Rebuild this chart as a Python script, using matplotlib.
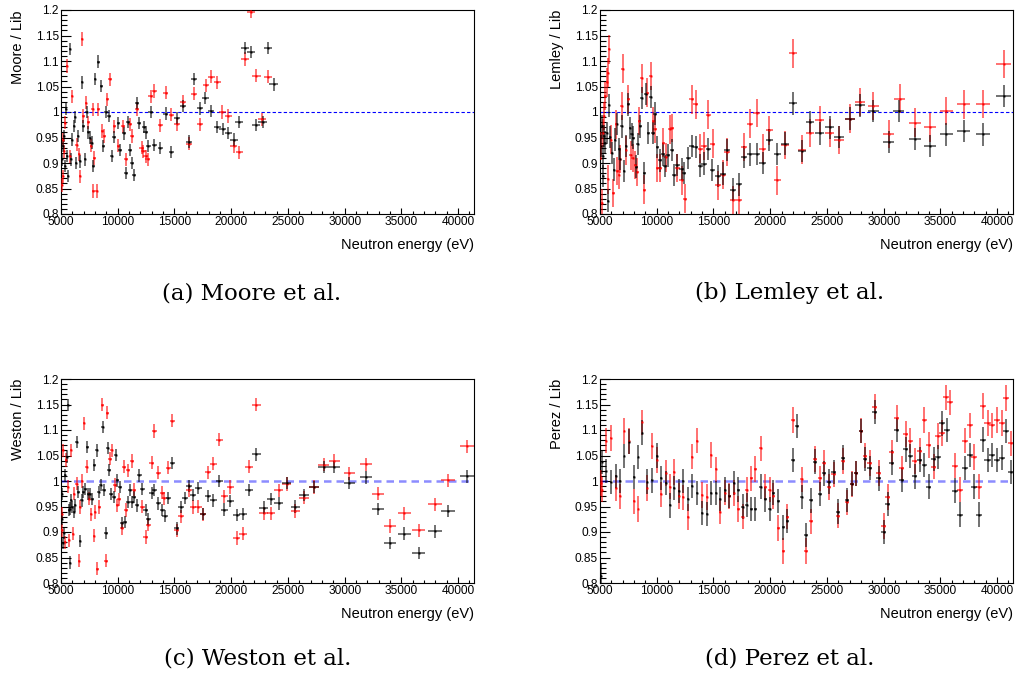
import numpy as np
import matplotlib
matplotlib.use("Agg")
import matplotlib.pyplot as plt
from matplotlib.ticker import MultipleLocator, FuncFormatter

# Ratio to library, black = first analysis, red = second analysis

# (a) Moore
moore_black_e = [5120, 5200, 5270, 5350, 5440, 5500, 5650, 5790, 5850, 6000, 6150, 6240, 6320, 6470, 6680,
                 6850, 6970, 7120, 7260, 7410, 7560, 7700, 7850, 8000, 8290, 8530, 8730, 8970, 9230, 9470,
                 9680, 10060, 10200, 10530, 10700, 10880, 11090, 11290, 11470, 11670, 11900, 12320, 12470,
                 12700, 12900, 13230, 13730, 14230, 14730, 15230, 15730, 16260, 16760, 17230, 17730, 18230,
                 18760, 19260, 19760, 20260, 20700, 21230, 21730, 22200, 22760, 23230, 23730]
moore_black_r = [0.907, 0.933, 0.953, 0.894, 1.006, 0.913, 0.874, 1.123, 0.907, 0.946, 0.972, 0.990, 0.900,
                 0.953, 0.903, 1.058, 0.972, 0.907, 1.000, 0.960, 0.950, 0.940, 0.894, 1.064, 1.099, 1.051,
                 0.933, 1.000, 0.992, 0.913, 0.951, 0.979, 0.926, 0.958, 0.880, 0.980, 0.926, 0.900, 0.877,
                 1.018, 0.979, 0.970, 0.960, 0.933, 1.000, 0.935, 0.930, 0.997, 0.922, 0.988, 1.012, 0.942,
                 1.064, 1.007, 1.027, 1.002, 0.970, 0.966, 0.959, 0.946, 0.980, 1.125, 1.118, 0.974, 0.980,
                 1.125, 1.054]
moore_red_e = [5090, 5150, 5200, 5260, 5350, 5500, 5790, 6000, 6380, 6590, 6680, 6850, 6970, 7200, 7410,
               7650, 7790, 7850, 7940, 8150, 8290, 8650, 8820, 9090, 9320, 9700, 10060, 10500, 10700, 11090,
               11290, 11700, 12110, 12260, 12470, 12640, 12910, 13230, 13730, 14230, 14730, 15230, 15760,
               16260, 16760, 17260, 17760, 18260, 18760, 19230, 19730, 20230, 20730, 21230, 21730, 22230,
               22700, 23230]
moore_red_r = [0.857, 0.946, 0.874, 0.923, 0.979, 1.090, 0.913, 1.031, 0.936, 0.917, 0.874, 1.143, 0.992,
               1.018, 0.980, 0.934, 1.005, 0.845, 0.910, 0.845, 1.005, 0.963, 0.953, 1.025, 1.064, 0.972,
               0.934, 0.972, 0.907, 0.976, 0.953, 1.006, 0.930, 0.923, 0.913, 0.907, 1.031, 1.041, 0.974,
               1.038, 0.995, 0.976, 1.020, 0.938, 1.036, 0.976, 1.052, 1.069, 1.058, 1.000, 0.992, 0.933,
               0.921, 1.104, 1.197, 1.071, 0.986, 1.069]

# (b) Lemley
lemley_black_e = [5090, 5150, 5240, 5290, 5350, 5470, 5590, 5740, 5820, 5880, 6090, 6230, 6350, 6470, 6650,
                  6760, 6910, 7120, 7290, 7500, 7650, 7790, 7940, 8180, 8320, 8530, 8680, 8910, 9060, 9260,
                  9470, 9650, 9850, 10060, 10290, 10530, 10730, 10970, 11320, 11530, 11820, 12200, 12410,
                  12790, 13090, 13440, 13820, 14170, 14560, 14910, 15380, 15820, 16230, 16700, 17260, 17700,
                  18230, 18820, 19350, 19930, 20640, 21320, 22050, 22790, 23520, 24350, 25230, 26080, 27050,
                  27930, 29100, 30430, 31310, 32780, 34100, 35520, 37050, 38750, 40570]
lemley_black_r = [0.933, 0.972, 0.913, 0.874, 0.953, 0.940, 0.959, 0.825, 1.013, 0.951, 0.920, 0.887, 0.946,
                  0.976, 0.928, 0.908, 0.972, 0.884, 0.933, 1.015, 0.969, 0.956, 0.950, 0.893, 0.937, 0.972,
                  1.027, 0.880, 1.035, 0.959, 1.029, 0.959, 0.997, 0.931, 0.905, 0.917, 0.894, 0.915, 0.925,
                  0.877, 0.896, 0.888, 0.880, 0.910, 0.933, 0.931, 0.895, 0.899, 0.928, 0.886, 0.875, 0.879,
                  0.926, 0.848, 0.858, 0.912, 0.917, 0.918, 0.900, 0.945, 0.918, 0.938, 1.017, 0.923, 0.980,
                  0.958, 0.970, 0.951, 0.987, 1.013, 1.002, 0.941, 1.002, 0.947, 0.933, 0.956, 0.963, 0.956,
                  1.031]
lemley_red_e = [5090, 5150, 5240, 5350, 5470, 5590, 5680, 5740, 5820, 5940, 6180, 6410, 6530, 6650, 6760,
                6910, 7000, 7290, 7500, 7700, 7880, 8090, 8290, 8470, 8680, 8910, 9170, 9470, 9700, 9850,
                10060, 10290, 10590, 10790, 11170, 11380, 11820, 12200, 12500, 13090, 13440, 13820, 14170,
                14560, 14940, 15380, 15820, 16230, 16700, 17260, 17700, 18230, 18820, 19350, 19930, 20640,
                21320, 22050, 22790, 23520, 24350, 25230, 26080, 27050, 27930, 29100, 30430, 31400, 32780,
                34100, 35520, 37050, 38750, 40570]
lemley_red_r = [0.933, 0.821, 0.959, 0.992, 1.031, 1.058, 0.868, 1.077, 1.123, 0.946, 0.841, 0.976, 0.884,
                0.877, 0.908, 1.012, 1.085, 0.925, 1.025, 0.915, 0.910, 0.896, 0.882, 0.982, 1.066, 0.848,
                1.038, 1.071, 0.982, 0.967, 0.890, 0.890, 0.940, 0.911, 0.966, 0.969, 0.890, 0.866, 0.830,
                1.025, 1.015, 0.928, 0.933, 0.995, 0.938, 0.856, 0.877, 0.922, 0.827, 0.828, 0.931, 0.977,
                0.998, 0.928, 0.964, 0.866, 0.935, 1.115, 0.926, 0.959, 0.984, 0.959, 0.945, 0.987, 1.020,
                1.012, 0.957, 1.026, 0.979, 0.970, 1.002, 1.015, 1.016, 1.094]

# (c) Weston
weston_black_e = [5060, 5120, 5200, 5290, 5380, 5500, 5650, 5700, 5760, 5790, 5880, 6000, 6150, 6260, 6380,
                  6530, 6680, 6820, 6970, 7150, 7320, 7410, 7560, 7760, 7940, 8150, 8320, 8500, 8670, 8790,
                  8970, 9120, 9230, 9410, 9680, 9820, 9970, 10200, 10410, 10640, 10880, 11090, 11290, 11470,
                  11670, 11910, 12170, 12470, 12700, 13000, 13230, 13580, 13940, 14170, 14470, 14820, 15200,
                  15550, 15940, 16320, 16670, 17110, 17520, 17970, 18440, 18940, 19410, 19910, 20490, 21020,
                  21580, 22230, 22850, 23520, 24200, 24900, 25640, 26430, 27260, 28140, 29100, 30400, 31870,
                  32900, 34020, 35250, 36520, 37990, 39100, 40780]
weston_black_r = [0.975, 0.926, 0.878, 0.898, 1.011, 1.047, 1.149, 0.943, 0.840, 0.946, 0.962, 0.949, 0.939,
                  0.952, 1.077, 0.979, 0.882, 0.962, 0.979, 0.985, 1.067, 0.975, 0.975, 0.964, 1.031, 1.060,
                  0.979, 0.992, 1.106, 0.983, 0.898, 1.064, 1.021, 0.975, 0.969, 1.051, 1.001, 0.988, 0.918,
                  0.920, 0.959, 0.982, 0.959, 0.969, 0.952, 1.011, 0.985, 0.943, 0.926, 0.977, 0.983, 0.956,
                  0.943, 0.931, 0.967, 1.036, 0.907, 0.949, 0.966, 0.990, 0.973, 0.987, 0.935, 0.970, 0.962,
                  1.000, 0.944, 0.961, 0.933, 0.936, 0.983, 1.052, 0.948, 0.964, 0.956, 0.996, 0.950, 0.972,
                  0.988, 1.028, 1.028, 0.996, 1.007, 0.945, 0.878, 0.897, 0.859, 0.901, 0.941, 1.009]
weston_red_e = [5060, 5120, 5200, 5350, 5440, 5590, 5710, 5880, 6090, 6150, 6380, 6560, 6680, 6850, 7030,
                7260, 7470, 7650, 7910, 8000, 8200, 8380, 8620, 8970, 9090, 9320, 9470, 9760, 9970, 10120,
                10410, 10560, 10700, 10940, 11230, 11470, 12170, 12470, 12700, 13000, 13230, 13580, 13940,
                14110, 14470, 14820, 15200, 15550, 16320, 16670, 17110, 17520, 17970, 18440, 18940, 19410,
                19910, 20490, 21020, 21580, 22230, 22850, 23520, 24200, 24900, 25640, 26430, 27260, 28140,
                29100, 30400, 31870, 32900, 34020, 35250, 36520, 37990, 39100, 40780]
weston_red_r = [0.903, 0.936, 1.060, 0.880, 1.041, 0.989, 0.884, 1.060, 0.897, 0.975, 0.995, 0.844, 0.949,
                1.000, 1.113, 1.028, 0.965, 0.935, 0.893, 0.939, 0.828, 0.949, 1.150, 0.844, 1.134, 1.044,
                1.060, 0.992, 0.952, 0.964, 0.907, 1.028, 0.943, 1.021, 1.039, 0.983, 0.950, 0.890, 0.914,
                1.036, 1.098, 1.016, 0.977, 0.966, 1.026, 1.118, 0.903, 0.931, 0.982, 0.949, 0.950, 0.935,
                1.017, 1.034, 1.081, 0.970, 0.988, 0.888, 0.897, 1.028, 1.150, 0.937, 0.937, 0.982, 0.994,
                0.941, 0.967, 0.988, 1.032, 1.039, 1.015, 1.033, 0.975, 0.912, 0.937, 0.903, 0.954, 1.001,
                1.068]

# (d) Perez
perez_black_e = [5100, 5180, 5530, 5940, 6410, 6760, 7150, 7590, 8000, 8380, 8730, 9170, 9560, 10000, 10380,
                 10790, 11170, 11530, 12000, 12350, 12730, 13140, 13580, 13970, 14410, 14790, 15230, 15580,
                 16030, 16410, 16820, 17200, 17580, 17940, 18320, 18670, 19170, 19550, 19940, 20290, 20730,
                 21170, 21520, 22000, 22350, 22760, 23170, 23580, 23960, 24400, 24760, 25140, 25580, 25960,
                 26400, 26760, 27200, 27580, 27990, 28370, 28760, 29200, 29550, 29990, 30370, 30730, 31170,
                 31610, 31960, 32340, 32720, 33170, 33580, 33960, 34400, 34780, 35140, 35580, 36310, 36750,
                 37130, 37570, 37930, 38370, 38750, 39160, 39550, 39990, 40430, 40780, 41220]
perez_black_r = [0.813, 1.037, 1.020, 0.998, 1.010, 1.000, 1.049, 1.077, 1.008, 1.047, 1.095, 0.999, 1.001,
                 1.050, 1.006, 0.996, 0.952, 0.986, 0.980, 1.000, 0.965, 0.990, 0.976, 0.937, 0.935, 0.976,
                 0.976, 0.965, 0.983, 0.971, 0.996, 0.983, 0.950, 0.953, 0.945, 0.945, 0.989, 0.964, 0.945,
                 0.977, 0.961, 0.909, 0.922, 1.041, 1.108, 0.969, 0.894, 0.962, 1.038, 0.975, 1.015, 0.999,
                 1.018, 0.940, 1.046, 0.963, 0.994, 1.015, 1.098, 1.043, 1.026, 1.135, 1.005, 0.900, 0.955,
                 1.036, 1.100, 1.002, 1.062, 1.049, 1.009, 1.042, 1.031, 0.989, 1.043, 1.047, 1.113, 1.100,
                 0.981, 0.934, 1.025, 1.051, 0.989, 0.934, 1.081, 1.041, 1.051, 1.041, 1.046, 1.098, 1.018]
perez_red_e = [5100, 5210, 5530, 5940, 6410, 6760, 7150, 7590, 8000, 8380, 8730, 9170, 9560, 10000, 10380,
               10790, 11170, 11530, 12000, 12350, 12730, 13140, 13580, 13970, 14410, 14790, 15230, 15580,
               16030, 16410, 16820, 17200, 17580, 17940, 18320, 18670, 19170, 19550, 19940, 20290, 20730,
               21170, 21520, 22000, 22760, 23170, 23580, 23960, 24400, 24760, 25140, 25580, 25960, 26400,
               26760, 27200, 27580, 27990, 28370, 28760, 29200, 29550, 29990, 30370, 30730, 31170, 31610,
               31960, 32340, 32720, 33170, 33580, 33960, 34400, 34780, 35140, 35520, 35870, 36310, 36750,
               37130, 37570, 37930, 38370, 38750, 39160, 39550, 39990, 40430, 40780, 41220]
perez_red_r = [0.996, 0.983, 1.079, 1.084, 0.986, 0.970, 1.098, 1.078, 0.960, 0.945, 1.115, 0.986, 1.069,
               1.041, 0.974, 1.016, 0.989, 1.018, 0.971, 0.968, 0.929, 1.048, 1.079, 0.973, 0.969, 1.051,
               1.023, 0.940, 0.977, 0.971, 0.976, 0.945, 0.930, 0.983, 1.005, 1.024, 1.064, 0.988, 0.983,
               0.971, 0.908, 0.863, 0.930, 1.120, 1.003, 0.863, 0.921, 1.043, 1.005, 1.035, 0.988, 1.013,
               0.932, 1.039, 0.958, 0.994, 1.015, 1.099, 1.050, 1.035, 1.146, 1.016, 0.912, 0.969, 1.056,
               1.124, 1.025, 1.092, 1.079, 1.039, 1.059, 1.120, 1.071, 1.028, 1.088, 1.094, 1.164, 1.154,
               1.030, 0.983, 1.079, 1.109, 1.047, 0.989, 1.147, 1.114, 1.109, 1.120, 1.114, 1.163, 1.074]

# typical uncertainties per data set: (black dR, red dR, relative half bin width)
unc_moore = (0.012, 0.013, 0.016)
unc_lemley = (0.022, 0.028, 0.016)
unc_weston = (0.012, 0.013, 0.016)
unc_perez = (0.024, 0.025, 0.007)

panels = [
    ("Moore / Lib", "(a) Moore et al.", moore_black_e, moore_black_r, moore_red_e, moore_red_r, unc_moore),
    ("Lemley / Lib", "(b) Lemley et al.", lemley_black_e, lemley_black_r, lemley_red_e, lemley_red_r, unc_lemley),
    ("Weston / Lib", "(c) Weston et al.", weston_black_e, weston_black_r, weston_red_e, weston_red_r, unc_weston),
    ("Perez / Lib", "(d) Perez et al.", perez_black_e, perez_black_r, perez_red_e, perez_red_r, unc_perez),
]

sans = "Liberation Sans"
fig = plt.figure(figsize=(10.19, 6.77), dpi=100)
W, H = 1019.0, 677.0
boxes = [(61, 10), (600, 10), (61, 379), (600, 379)]
caption_x = [252, 790, 258, 790]
caption_y = [293, 293, 658, 658]
aw, ah = 413, 204


def draw_set(ax, e, r, dr, frac, col):
    e = np.array(e, dtype=float)
    r = np.array(r, dtype=float)
    ax.errorbar(e, r, xerr=e * frac, yerr=dr, fmt="none", ecolor=col, elinewidth=1.3,
                capsize=0, alpha=0.6, zorder=3)
    ax.plot(e, r, "s", ms=1.4, mew=0, color=col, zorder=4)


for i, (ylab, cap, be, br, re_, rr, unc) in enumerate(panels):
    x0, y0 = boxes[i]
    ax = fig.add_axes([x0 / W, 1 - (y0 + ah) / H, aw / W, ah / H])
    dash_lw = 0.8 if i < 2 else 1.8
    dash_alpha = 1.0 if i < 2 else 0.45
    ax.axhline(1.0, color="blue", lw=dash_lw, ls=(0, (3, 2)), alpha=dash_alpha, zorder=2)
    draw_set(ax, re_, rr, unc[1], unc[2], "red")
    draw_set(ax, be, br, unc[0], unc[2], "black")

    ax.set_xlim(5000, 41400)
    ax.set_ylim(0.8, 1.2)
    ax.xaxis.set_major_locator(MultipleLocator(5000))
    ax.xaxis.set_minor_locator(MultipleLocator(1000))
    ax.yaxis.set_major_locator(MultipleLocator(0.05))
    ax.yaxis.set_minor_locator(MultipleLocator(0.01))
    ax.yaxis.set_major_formatter(FuncFormatter(lambda v, p: "%g" % round(v, 3)))
    ax.xaxis.set_major_formatter(FuncFormatter(lambda v, p: "%d" % v))
    ax.tick_params(axis="x", which="major", direction="in", length=4.3, width=0.8, pad=1.5,
                   labelsize=8.6, top=False)
    ax.tick_params(axis="x", which="minor", direction="in", length=2.2, width=0.8, top=False)
    ax.tick_params(axis="y", which="major", direction="in", length=7.5, width=0.8, pad=1.5,
                   labelsize=8.6, right=False)
    ax.tick_params(axis="y", which="minor", direction="in", length=4.0, width=0.8, right=False)
    for lbl in ax.get_xticklabels() + ax.get_yticklabels():
        lbl.set_family(sans)
    for sp in ax.spines.values():
        sp.set_linewidth(0.8)

    ax.text(1.0, -0.152, "Neutron energy (eV)", transform=ax.transAxes, ha="right", va="center",
            fontsize=10.5, family=sans)
    ax.text(-0.104, 1.0, ylab, transform=ax.transAxes, ha="center", va="top", rotation=90,
            fontsize=10.5, family=sans)
    fig.text(caption_x[i] / W, 1 - caption_y[i] / H, cap, ha="center", va="center",
             fontsize=16.5, family="DejaVu Serif")

fig.savefig("out.png", dpi=100)
